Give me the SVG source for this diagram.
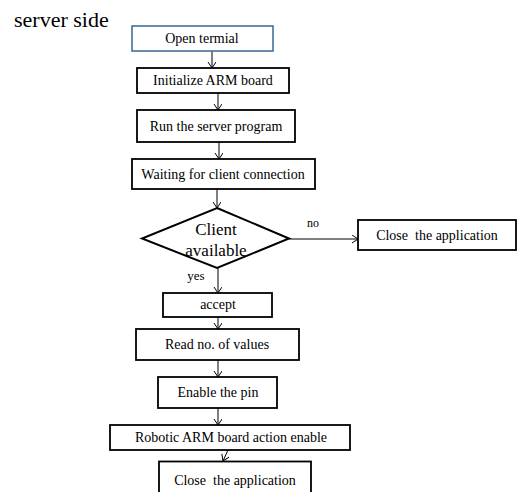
<svg xmlns="http://www.w3.org/2000/svg" width="517" height="492" viewBox="0 0 517 492" font-family="'Liberation Serif', 'Times New Roman', serif">
<defs>
<marker id="arr" markerWidth="10" markerHeight="10" refX="7" refY="4" orient="auto" markerUnits="userSpaceOnUse">
<path d="M1,0 L7,4 L1,8" fill="none" stroke="#000" stroke-width="1"/>
</marker>
<style>
text{font-family:'Liberation Serif','Times New Roman',serif}
.box{fill:#fff;stroke:#000;stroke-width:1.8}
.blue{fill:#fff;stroke:#41719C;stroke-width:1.6}
.t{font-size:14px;fill:#000;text-anchor:middle;white-space:pre}
.c{stroke:#000;stroke-width:1;fill:none;marker-end:url(#arr)}
</style>
</defs>
<rect width="517" height="492" fill="#fff"/>
<text x="14" y="27" font-size="22" fill="#000">server side</text>
<g id="connectors">
<line class="c" x1="212" y1="51" x2="212" y2="68"/>
<line class="c" x1="218" y1="93" x2="218" y2="110"/>
<line class="c" x1="219" y1="142" x2="219" y2="159"/>
<line class="c" x1="217" y1="189" x2="217" y2="208"/>
<line class="c" x1="289" y1="239" x2="358" y2="239"/>
<line class="c" x1="218" y1="268" x2="218" y2="293"/>
<line class="c" x1="218" y1="317" x2="218" y2="329"/>
<line class="c" x1="218" y1="360" x2="218" y2="377"/>
<line class="c" x1="218" y1="408" x2="218" y2="425"/>
<line class="c" x1="228" y1="450" x2="223" y2="461"/>
<text class="t" x="313" y="227" style="font-size:12px">no</text>
<text class="t" x="196" y="280" style="font-size:13px">yes</text>
</g>
<g id="open">
<rect class="blue" x="132" y="26" width="141" height="25"/>
<text class="t" x="202" y="43">Open termial</text>
</g>
<g id="init">
<rect class="box" x="137" y="68" width="152" height="25"/>
<text class="t" x="213" y="85">Initialize ARM board</text>
</g>
<g id="run">
<rect class="box" x="137" y="110" width="158" height="32"/>
<text class="t" x="216" y="131">Run the server program</text>
</g>
<g id="waiting">
<rect class="box" x="132" y="159" width="183" height="30"/>
<text class="t" x="223" y="179">Waiting for client connection</text>
</g>
<g id="decision">
<polygon class="box" points="217,208 289,238.5 217,268 142,238.5" style="stroke-width:2"/>
<text class="t" x="216" y="235" style="font-size:17px">Client</text>
<text class="t" x="216" y="256" style="font-size:17px">available</text>
</g>
<g id="close1">
<rect class="box" x="358" y="220" width="158" height="30"/>
<text class="t" x="437" y="240">Close  the application</text>
</g>
<g id="accept">
<rect class="box" x="163" y="293" width="109" height="24"/>
<text class="t" x="218" y="309">accept</text>
</g>
<g id="read">
<rect class="box" x="136" y="329" width="163" height="31"/>
<text class="t" x="217" y="349">Read no. of values</text>
</g>
<g id="enable">
<rect class="box" x="158" y="377" width="119" height="31"/>
<text class="t" x="218" y="397">Enable the pin</text>
</g>
<g id="robotic">
<rect class="box" x="110" y="425" width="240" height="25"/>
<text class="t" x="231" y="442">Robotic ARM board action enable</text>
</g>
<g id="close2">
<rect class="box" x="159" y="461.5" width="152" height="34"/>
<text class="t" x="235" y="485">Close  the application</text>
</g>
</svg>
